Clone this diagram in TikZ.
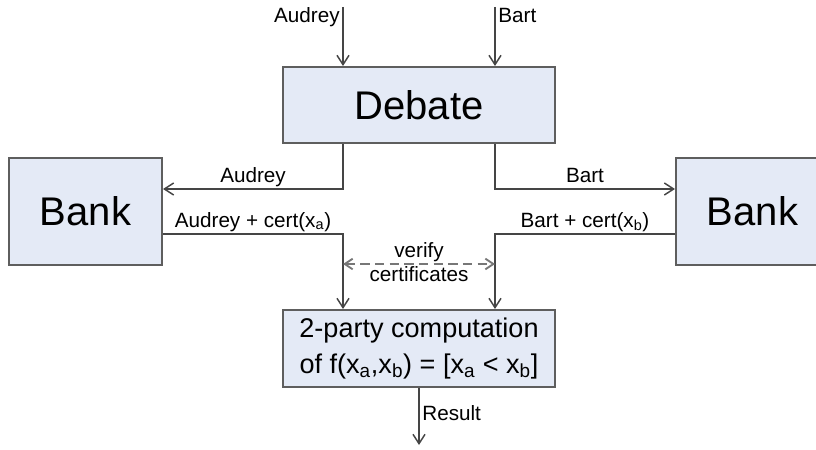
\documentclass[tikz,border=0pt]{standalone}
\usepackage{fontspec}
\setmainfont{Liberation Sans}
\usepackage{tikz}
\usetikzlibrary{arrows.meta, calc}
\definecolor{boxFill}{HTML}{E4EAF6}
\definecolor{boxLine}{HTML}{5E5E5E}
\definecolor{wireLine}{HTML}{454545}
\definecolor{dashLine}{HTML}{777777}

\begin{document}
\begin{tikzpicture}[
  x=0.75pt, y=-0.75pt,
  font=\fontsize{15.5}{18}\selectfont,
  party/.style={draw=boxLine, line width=1.5pt, fill=boxFill, inner sep=0pt,
                minimum width=272*0.75pt, minimum height=76*0.75pt,
                font=\fontsize{30}{36}\selectfont},
  bank/.style={party, minimum width=153*0.75pt, minimum height=107*0.75pt},
  calc2/.style={party, minimum height=77*0.75pt, align=center,
                font=\fontsize{20.3}{27}\selectfont},
  lbl/.style={inner sep=2pt, text height=1.6ex, text depth=0.5ex},
  a/.style={-{Straight Barb[length=7pt, width=9pt]}, line width=1.1pt, draw=wireLine},
  ad/.style={{Straight Barb[length=6pt, width=8pt]}-{Straight Barb[length=6pt, width=8pt]},
             line width=1.4pt, dash pattern=on 7pt off 4pt, draw=dashLine}
]
\useasboundingbox (0,0) rectangle (816,449);

\node[party] (debate) at (419,105) {Debate};
\node[bank] (bankL) at (85.5,211.5) {Bank};
\node[bank] (bankR) at (752.5,211.5) {Bank};
\node[calc2] (mpc) at (419,348.5) {2-party computation\\of f(x\textsubscript{a},x\textsubscript{b}) = [x\textsubscript{a} < x\textsubscript{b}]};

\coordinate (inA) at (343,7);
\coordinate (inB) at (495,7);
\coordinate (out) at (419,445);

\draw[a] (inA) -- (inA |- debate.north) node[pos=0.2, left, lbl] {Audrey};
\draw[a] (inB) -- (inB |- debate.north) node[pos=0.2, right, lbl] {Bart};

\draw[a] ($(debate.south)+(-76,0)$) |- ($(bankL.east)+(0,-22.5)$)
  node[pos=0.75, above, lbl] {Audrey};
\draw[a] ($(debate.south)+(76,0)$) |- ($(bankR.west)+(0,-22.5)$)
  node[pos=0.75, above, lbl] {Bart};

\draw[a] ($(bankL.east)+(0,22.5)$) -| ($(mpc.north)+(-76,0)$)
  node[pos=0.25, above, lbl] {Audrey + cert(x\textsubscript{a})};
\draw[a] ($(bankR.west)+(0,22.5)$) -| ($(mpc.north)+(76,0)$)
  node[pos=0.25, above, lbl] {Bart + cert(x\textsubscript{b})};

\draw[ad] ($(mpc.north)+(-76,-45)$) -- ($(mpc.north)+(76,-45)$)
  node[midway, above, inner sep=1pt] {verify}
  node[midway, below, inner sep=1pt] {certificates};

\draw[a] (mpc) -- (out) node[pos=0.5, right, lbl] {Result};

\end{tikzpicture}
\end{document}
